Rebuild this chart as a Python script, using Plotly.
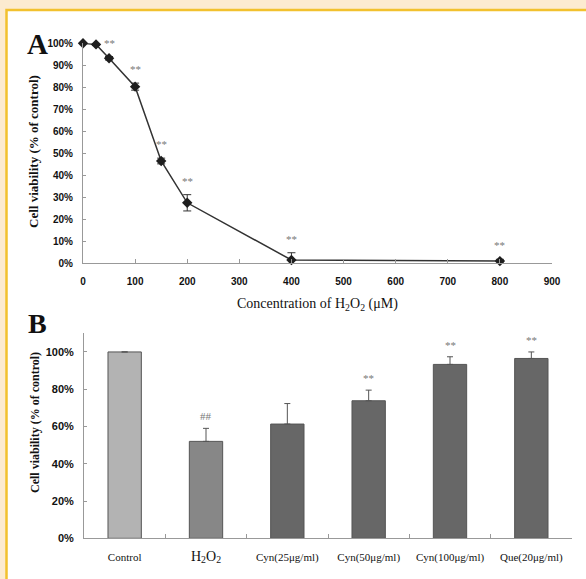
import plotly.graph_objects as go

# ---------------- Data ----------------
# Panel A
conc_a = [0, 25, 50, 100, 150, 200, 400, 800]
viability_a = [100, 99.5, 93.2, 80.3, 46.5, 27.5, 1.5, 1.0]
err_a = [0, 0.5, 0.8, 1.6, 1.3, 3.7, 3.3, 0.8]
sig_a = ["", "", "**", "**", "**", "**", "**", "**"]
xticks_a = [0, 100, 200, 300, 400, 500, 600, 700, 800, 900]
yticks_a = [0, 10, 20, 30, 40, 50, 60, 70, 80, 90, 100]

# Panel B
groups_b = ["Control", "H2O2", "Cyn25", "Cyn50", "Cyn100", "Que20"]
labels_b = ["Control",
            "<span style='font-size:14px'>H<sub>2</sub>O<sub>2</sub></span>",
            "Cyn(25μg/ml)", "Cyn(50μg/ml)", "Cyn(100μg/ml)", "Que(20μg/ml)"]
viability_b = [100, 52, 61.3, 73.8, 93.3, 96.5]
err_b = [0, 7, 11, 5.7, 4.1, 3.5]
sig_b = ["", "##", "", "**", "**", "**"]
yticks_b = [0, 20, 40, 60, 80, 100]
colors_b = ["#b3b3b3", "#878787", "#676767", "#676767", "#676767", "#676767"]

W, H = 586, 579
SERIF = "Liberation Serif, Times New Roman, serif"
SANS = "Liberation Sans, Arial, sans-serif"


def px_x(p):
    return p / W


def px_y(p):
    return 1 - p / H


fig = go.Figure()

# Panel A line
fig.add_trace(go.Scatter(
    x=conc_a, y=viability_a,
    mode="lines+markers",
    line=dict(color="#333333", width=1.5),
    marker=dict(symbol="diamond", size=8, color="#1e1e1e"),
    error_y=dict(type="data", array=err_a, visible=True,
                 color="#333333", thickness=1, width=4),
    cliponaxis=False,
    xaxis="x", yaxis="y",
    showlegend=False,
))

# Panel B bars
fig.add_trace(go.Bar(
    x=groups_b, y=viability_b,
    marker=dict(color=colors_b, line=dict(color="#555555", width=1)),
    width=0.41,
    error_y=dict(type="data", array=err_b, arrayminus=[0] * len(err_b),
                 symmetric=False, visible=True,
                 color="#555555", thickness=1, width=3),
    xaxis="x2", yaxis="y2",
    showlegend=False,
))

annotations = []
for xv, yv, ev, s in zip(conc_a, viability_a, err_a, sig_a):
    if s:
        annotations.append(dict(
            x=xv, y=yv + ev, xref="x", yref="y", text=s, showarrow=False,
            xanchor="center", yanchor="middle",
            yshift=14, font=dict(family=SERIF, size=11, color="#777777")))
for xv, yv, ev, s in zip(groups_b, viability_b, err_b, sig_b):
    if s:
        annotations.append(dict(
            x=xv, y=yv + ev, xref="x2", yref="y2", text=s, showarrow=False,
            xanchor="center", yanchor="middle",
            yshift=12, font=dict(family=SERIF, size=11, color="#777777")))

# Panel letters and axis titles
paper_labels = [
    (37, 44, "<b>A</b>", 0, 29),
    (37, 323, "<b>B</b>", 0, 28),
    (34, 152, "<b>Cell viability (% of control)</b>", -90, 13),
    (35, 423, "<b>Cell viability (% of control)</b>", -90, 12),
    (317, 304, "Concentration of H<sub>2</sub>O<sub>2</sub> (μM)", 0, 14),
]
for px, py, txt, ang, fs in paper_labels:
    annotations.append(dict(
        x=px_x(px), y=px_y(py), xref="paper", yref="paper", text=txt,
        textangle=ang, showarrow=False, xanchor="center", yanchor="middle",
        font=dict(family=SERIF, size=fs, color="#111111")))

shapes = [
    dict(type="rect", xref="paper", yref="paper",
         x0=px_x(6.5), x1=1.1, y0=-0.1, y1=px_y(10),
         fillcolor="white", line=dict(color="#f2c12e", width=2.5),
         layer="below"),
]

axis_common = dict(showgrid=False, zeroline=False, showline=True,
                   automargin=False,
                   linecolor="#999999", linewidth=1, tickcolor="#999999")

fig.update_layout(
    template="none",
    width=W, height=H,
    margin=dict(l=0, r=0, t=0, b=0, autoexpand=False),
    paper_bgcolor="#fcebd0",
    plot_bgcolor="rgba(0,0,0,0)",
    showlegend=False,
    annotations=annotations,
    shapes=shapes,
    xaxis=dict(domain=[px_x(83), px_x(552)], range=[0, 900],
               tickvals=xticks_a, ticks="inside", ticklen=4,
               ticklabelstandoff=9,
               tickfont=dict(family=SANS, size=10, color="#111111", weight="bold"),
               anchor="y", **axis_common),
    yaxis=dict(domain=[px_y(263.3), px_y(43.3)], range=[0, 100],
               tickvals=yticks_a, ticktext=[f"{v}%" for v in yticks_a],
               ticks="inside", ticklen=3, ticklabelstandoff=7,
               tickfont=dict(family=SANS, size=10, color="#111111", weight="bold"),
               anchor="x", **axis_common),
    xaxis2=dict(domain=[px_x(84), px_x(572)], type="category",
                categoryorder="array", categoryarray=groups_b,
                tickvals=groups_b, ticktext=labels_b,
                tickson="boundaries", ticks="inside", ticklen=4,
                ticklabelstandoff=8,
                tickfont=dict(family=SERIF, size=11, color="#111111"),
                anchor="y2", **axis_common),
    yaxis2=dict(domain=[px_y(538.3), px_y(333.3)], range=[0, 110],
                tickvals=yticks_b, ticktext=[f"{v}%" for v in yticks_b],
                ticks="inside", ticklen=3, ticklabelstandoff=7,
                tickfont=dict(family=SANS, size=11, color="#111111", weight="bold"),
                anchor="x2", **axis_common),
)

fig.write_html("out.html",
               config={"displayModeBar": False},
               post_script="document.body.style.margin='0';"
                           "document.body.style.background='#fcebd0';")
